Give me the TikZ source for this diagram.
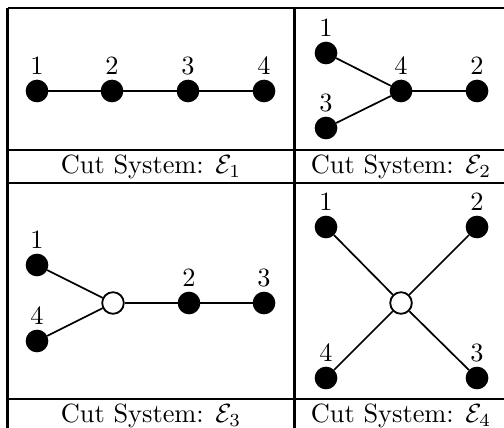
\documentclass[tikz,border=0pt]{standalone}
\usepackage{amsmath}
\begin{document}
\begin{tikzpicture}[x=0.013333cm, y=-0.013333cm,
  vtx/.style={circle, fill=black, draw=black, inner sep=0pt, minimum size=8.2pt},
  wvtx/.style={circle, fill=white, draw=black, line width=0.7pt, inner sep=0pt, minimum size=8.2pt},
  lbl/.style={inner sep=0pt, font=\normalsize},
  edgeln/.style={line width=0.65pt},
  tabrule/.style={line width=0.8pt},
  captxt/.style={inner sep=0pt}]
\useasboundingbox (0,0) rectangle (504,428);
\clip (0,0) rectangle (504,428);
% table rules
\draw[tabrule] (7.5,8) -- (510,8);
\draw[tabrule] (7.5,8) -- (7.5,440);
\draw[tabrule] (294.5,8) -- (294.5,440);
\draw[tabrule] (508,8) -- (508,440);
\draw[tabrule] (7.5,150) -- (510,150);
\draw[tabrule] (7.5,183) -- (510,183);
\draw[tabrule] (7.5,399) -- (510,399);
\draw[tabrule] (7.5,432) -- (510,432);
% panel 1
\node[vtx] (a1) at (37,91) {};
\node[vtx] (a2) at (112,91) {};
\node[vtx] (a3) at (188,91) {};
\node[vtx] (a4) at (264,91) {};
\node[lbl] (la1) at (37,66) {1};
\node[lbl] (la2) at (112,66) {2};
\node[lbl] (la3) at (188,66) {3};
\node[lbl] (la4) at (264,66) {4};
\draw[edgeln] (a1) -- (a2) -- (a3) -- (a4);
\node[captxt] (c1) at (151,166.5) {Cut System: $\mathcal{E}_1$};
% panel 2
\node[vtx] (b1) at (326,53) {};
\node[vtx] (b3) at (326,128) {};
\node[vtx] (b4) at (401,91) {};
\node[vtx] (b2) at (477,91) {};
\node[lbl] (lb1) at (326,28) {1};
\node[lbl] (lb3) at (326,103) {3};
\node[lbl] (lb4) at (401,66) {4};
\node[lbl] (lb2) at (477,66) {2};
\draw[edgeln] (b1) -- (b4);
\draw[edgeln] (b3) -- (b4);
\draw[edgeln] (b4) -- (b2);
\node[captxt] (c2) at (401,166.5) {Cut System: $\mathcal{E}_2$};
% panel 3
\node[vtx] (d1) at (37,265) {};
\node[vtx] (d4) at (37,341) {};
\node[wvtx] (d0) at (113,303) {};
\node[vtx] (d2) at (189,303) {};
\node[vtx] (d3) at (264,303) {};
\node[lbl] (ld1) at (37,240) {1};
\node[lbl] (ld4) at (37,316) {4};
\node[lbl] (ld2) at (189,278) {2};
\node[lbl] (ld3) at (264,278) {3};
\draw[edgeln] (d1) -- (d0);
\draw[edgeln] (d4) -- (d0);
\draw[edgeln] (d0) -- (d2) -- (d3);
\node[captxt] (c3) at (151,415.5) {Cut System: $\mathcal{E}_3$};
% panel 4
\node[vtx] (e1) at (326,227) {};
\node[vtx] (e2) at (477,227) {};
\node[vtx] (e4) at (326,378) {};
\node[vtx] (e3) at (477,378) {};
\node[wvtx] (e0) at (401,303) {};
\node[lbl] (le1) at (326,202) {1};
\node[lbl] (le2) at (477,202) {2};
\node[lbl] (le4) at (326,353) {4};
\node[lbl] (le3) at (477,353) {3};
\draw[edgeln] (e1) -- (e0) -- (e3);
\draw[edgeln] (e2) -- (e0) -- (e4);
\node[captxt] (c4) at (401,415.5) {Cut System: $\mathcal{E}_4$};
\end{tikzpicture}
\end{document}
